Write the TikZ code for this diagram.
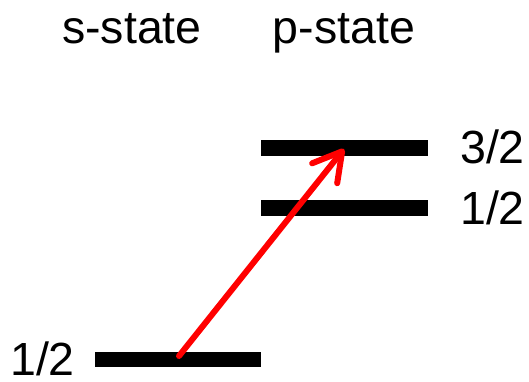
\documentclass[tikz,border=0pt]{standalone}
\usepackage{fontspec}
\setmainfont{Liberation Sans}
\usetikzlibrary{arrows.meta}
\begin{document}
\begin{tikzpicture}[x=1pt,y=-1pt,
  level/.style={line width=16pt},
  lbl/.style={font=\fontsize{46.5}{50}\selectfont, inner sep=0pt, anchor=base west},
  hdr/.style={font=\fontsize{46.5}{50}\selectfont, inner sep=0pt, anchor=base},
  trans/.style={red, line width=6pt, line cap=round, -{Straight Barb[length=28pt,width=32pt,round]}}]
\useasboundingbox (0,0) rectangle (529,381);
\node[hdr] (s) at (132,43) {s-state};
\node[hdr] (p) at (344,43) {p-state};
% levels
\coordinate (p3a) at (261,148); \coordinate (p3b) at (428,148);
\coordinate (p1a) at (261,208); \coordinate (p1b) at (428,208);
\coordinate (s1a) at (95,359.5); \coordinate (s1b) at (261,359.5);
\draw[level] (p3a) -- (p3b);
\draw[level] (p1a) -- (p1b);
\draw[level, line width=15pt] (s1a) -- (s1b);
\node[lbl] (l3) at (460,163) {3/2};
\node[lbl] (l1) at (460,224) {1/2};
\node[lbl] (ls) at (10,375) {1/2};
\coordinate (from) at (179,356);
\coordinate (to) at (344,149);
\draw[trans] (from) -- (to);
\end{tikzpicture}
\end{document}
